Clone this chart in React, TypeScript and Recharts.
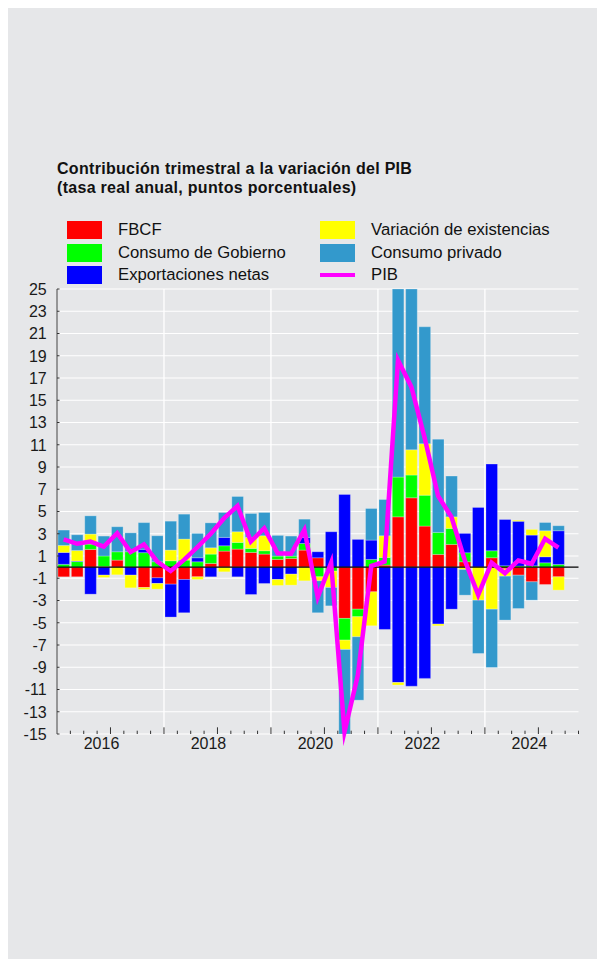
import React from 'react';
import {
  ComposedChart,
  Bar,
  Line,
  XAxis,
  YAxis,
  CartesianGrid,
  ReferenceLine,
} from 'recharts';

// trimestres 2015T1 .. 2024T3 (el último sin datos)
const quarters = [
  '2015T1', '2015T2', '2015T3', '2015T4', '2016T1', '2016T2', '2016T3', '2016T4',
  '2017T1', '2017T2', '2017T3', '2017T4', '2018T1', '2018T2', '2018T3', '2018T4',
  '2019T1', '2019T2', '2019T3', '2019T4', '2020T1', '2020T2', '2020T3', '2020T4',
  '2021T1', '2021T2', '2021T3', '2021T4', '2022T1', '2022T2', '2022T3', '2022T4',
  '2023T1', '2023T2', '2023T3', '2023T4', '2024T1', '2024T2', '2024T3',
];

const fbcf = [
  -0.87, -0.87, 1.59, 0.05, 0.63, 0, -1.83, -0.96, -1.53, -1.11, -0.87, 0.33, 1.44,
  1.62, 1.32, 1.17, 0.69, 0.78, 1.53, 0.84, 0, -4.61, -3.78, -2.22, 0.18, 4.52, 6.23,
  3.69, 1.14, 2.04, 0.48, 0, 0.84, -0.15, -0.72, -1.32, -1.56, -0.87, null,
];
const gobierno = [
  0.25, 0.5, 0.48, 0.95, 0.75, 1.38, 1.3, 0.48, 0.57, 0.63, 0.48, 0.84, 0.48, 0.6,
  0.36, 0.3, 0.3, 0.21, 0.6, -0.87, -0.36, -1.95, -0.68, 0.69, 0.69, 3.57, 2.04, 2.78,
  1.98, 1.44, 0.81, 0, 0.63, 0.12, 0.09, 0.12, 0.39, 0.24, null,
];
const exportaciones = [
  1.07, 0.05, -2.43, -0.72, 0, -0.72, 0.3, -0.51, -2.96, -2.99, 0.36, -0.87, 0.75,
  -0.87, -2.46, -1.47, -1.11, -0.63, 0.54, 0.54, 3.18, 6.53, 2.49, 1.74, -5.6, -10.37,
  -10.7, -10.0, -5.12, -3.78, 1.74, 5.37, 7.79, 4.16, 4.03, 2.76, 0.54, 3.03, null,
];
const existencias = [
  0.63, 0.95, 0.9, -0.21, -0.69, -1.14, -0.17, -0.51, 0.96, 1.89, -0.24, 0.57, -0.42,
  0.96, 0.99, 1.35, -0.54, -0.99, -1.23, -0.36, -1.47, -0.84, -1.8, -3.05, 1.95, -0.23,
  2.28, 4.62, -0.15, 1.04, -0.21, -2.97, -3.78, -0.66, 0.09, 0.51, 2.34, -1.2, null,
];
const privado = [
  1.38, 1.41, 1.64, 1.79, 2.25, 1.7, 2.4, 2.34, 2.6, 2.24, 2.19, 2.24, 2.24, 3.17,
  2.15, 2.09, 1.86, 1.8, 1.64, -2.87, -1.65, -13.6, -5.7, 2.84, 3.26, 21.1, 16.35,
  10.51, 8.38, 3.66, -2.31, -4.79, -5.24, -3.95, -3.0, -1.65, 0.74, 0.45, null,
];
const pib = [
  2.5, 2.1, 2.3, 1.85, 3.05, 1.35, 2.05, 0.5, -0.35, 0.65, 1.8, 3.0, 4.4, 5.5, 2.3,
  3.5, 1.25, 1.2, 3.35, -2.7, 0.4, -14.8, -9.7, 0.1, 0.5, 18.6, 16.2, 11.6, 6.4, 4.5,
  0.6, -2.5, 0.4, -0.55, 0.6, 0.3, 2.55, 1.75, null,
];

const yTicks = [25, 23, 21, 19, 17, 15, 13, 11, 9, 7, 5, 3, 1, -1, -3, -5, -7, -9, -11, -13, -15];
// etiquetas de año, en el índice del primer trimestre de cada año
const yearTicks = [
  { pos: 4, label: '2016' },
  { pos: 12, label: '2018' },
  { pos: 20, label: '2020' },
  { pos: 28, label: '2022' },
  { pos: 36, label: '2024' },
];
const gridYears = ['2017T1', '2019T1', '2021T1', '2023T1'];

const COLORS = {
  fbcf: '#ff0000',
  gobierno: '#00ff00',
  exportaciones: '#0000ff',
  existencias: '#ffff00',
  privado: '#3399cc',
  pib: '#ff00ff',
};

const data = quarters.map((q, i) => ({
  q,
  fbcf: fbcf[i],
  gobierno: gobierno[i],
  exportaciones: exportaciones[i],
  existencias: existencias[i],
  privado: privado[i],
  pib: pib[i],
}));

const FONT = '"Liberation Sans", Arial, Helvetica, sans-serif';

const CHART_W = 589;
const Y_W = 49;
const RIGHT = 18.5;
const BAND = (CHART_W - Y_W - RIGHT) / quarters.length;

const YTick = (props: any) => {
  const { x, y, payload } = props;
  return (
    <g>
      <line x1={x} y1={y} x2={x + 2.5} y2={y} stroke="#333" strokeWidth={1} />
      <text x={x - 10.3} y={y} dy="0.36em" textAnchor="end" fontSize={16} fill="#1a1a1a" fontFamily={FONT}>
        {payload.value}
      </text>
    </g>
  );
};

const XTick = (props: any) => {
  const { x, y, payload } = props;
  const i = quarters.indexOf(payload.value);
  const left = x - BAND / 2;
  const lab = yearTicks.find((t) => t.pos === i);
  return (
    <g>
      {i > 0 && (
        <line x1={left} y1={y} x2={left} y2={y - (i % 4 === 0 ? 6.7 : 3.3)} stroke="#333" strokeWidth={1} />
      )}
      {i === quarters.length - 1 && (
        <line x1={x + BAND / 2} y1={y} x2={x + BAND / 2} y2={y - 3.3} stroke="#333" strokeWidth={1} />
      )}
      {lab && (
        <text x={left - 9} y={y + 14.5} textAnchor="middle" fontSize={16} fill="#1a1a1a" fontFamily={FONT}>
          {lab.label}
        </text>
      )}
    </g>
  );
};

const legendItems = [
  { label: 'FBCF', color: COLORS.fbcf, col: 0, row: 0 },
  { label: 'Consumo de Gobierno', color: COLORS.gobierno, col: 0, row: 1 },
  { label: 'Exportaciones netas', color: COLORS.exportaciones, col: 0, row: 2 },
  { label: 'Variación de existencias', color: COLORS.existencias, col: 1, row: 0 },
  { label: 'Consumo privado', color: COLORS.privado, col: 1, row: 1 },
  { label: 'PIB', color: COLORS.pib, col: 1, row: 2, line: true },
];

const barStroke = 'rgba(255,255,255,0.3)';

const titleStyle: React.CSSProperties = {
  position: 'absolute',
  left: 49,
  fontSize: 16,
  fontWeight: 'bold',
  letterSpacing: 0.3,
  whiteSpace: 'nowrap',
};

export default function App() {
  return (
    <div
      style={{
        position: 'relative',
        width: 589,
        height: 951,
        background: '#e6e7e9',
        fontFamily: FONT,
        color: '#111',
      }}
    >
      {/* Título */}
      <div style={{ ...titleStyle, top: 152 }}>Contribución trimestral a la variación del PIB</div>
      <div style={{ ...titleStyle, top: 170.5 }}>(tasa real anual, puntos porcentuales)</div>

      {/* Leyenda */}
      {legendItems.map((it) => (
        <div
          key={it.label}
          style={{
            position: 'absolute',
            left: it.col === 0 ? 59 : 312,
            top: 213 + it.row * 22.5,
            height: 18,
            display: 'flex',
            alignItems: 'center',
            fontSize: 16.7,
            whiteSpace: 'nowrap',
          }}
        >
          {it.line ? (
            <div style={{ width: 35, height: 18, display: 'flex', alignItems: 'center' }}>
              <div style={{ width: 35, height: 4, background: it.color }} />
            </div>
          ) : (
            <div style={{ width: 35, height: 18, background: it.color }} />
          )}
          <span style={{ marginLeft: 16 }}>{it.label}</span>
        </div>
      ))}

      <div style={{ position: 'absolute', left: 0, top: 0 }}>
        <ComposedChart
          width={CHART_W}
          height={800}
          data={data}
          stackOffset="sign"
          margin={{ top: 281, right: RIGHT, bottom: 73, left: 0 }}
          barSize={11.6}
        >
          <CartesianGrid vertical={false} stroke="#ffffff" strokeWidth={1.2} />
          <XAxis
            dataKey="q"
            interval={0}
            height={1}
            axisLine={false}
            tickLine={false}
            tickSize={0}
            tickMargin={0}
            tick={<XTick />}
          />
          <YAxis
            domain={[-15, 25]}
            ticks={yTicks}
            interval={0}
            allowDataOverflow
            width={Y_W}
            tickSize={0}
            tickMargin={0}
            tickLine={false}
            axisLine={{ stroke: '#444', strokeWidth: 1 }}
            tick={<YTick />}
          />
          <YAxis yAxisId="pib" domain={[-15, 25]} hide />
          {gridYears.map((g) => (
            <ReferenceLine key={g} x={g} position="start" stroke="#ffffff" strokeWidth={1.3} />
          ))}
          <Bar dataKey="fbcf" stackId="a" fill={COLORS.fbcf} stroke={barStroke} strokeWidth={0.8} isAnimationActive={false} />
          <Bar dataKey="gobierno" stackId="a" fill={COLORS.gobierno} stroke={barStroke} strokeWidth={0.8} isAnimationActive={false} />
          <Bar dataKey="exportaciones" stackId="a" fill={COLORS.exportaciones} stroke={barStroke} strokeWidth={0.8} isAnimationActive={false} />
          <Bar dataKey="existencias" stackId="a" fill={COLORS.existencias} stroke={barStroke} strokeWidth={0.8} isAnimationActive={false} />
          <Bar dataKey="privado" stackId="a" fill={COLORS.privado} stroke={barStroke} strokeWidth={0.8} isAnimationActive={false} />
          <ReferenceLine y={0} stroke="#000000" strokeWidth={1.2} />
          <Line
            yAxisId="pib"
            dataKey="pib"
            type="linear"
            stroke={COLORS.pib}
            strokeWidth={4.5}
            strokeMiterlimit={10}
            dot={false}
            activeDot={false}
            isAnimationActive={false}
          />
        </ComposedChart>
      </div>
    </div>
  );
}
